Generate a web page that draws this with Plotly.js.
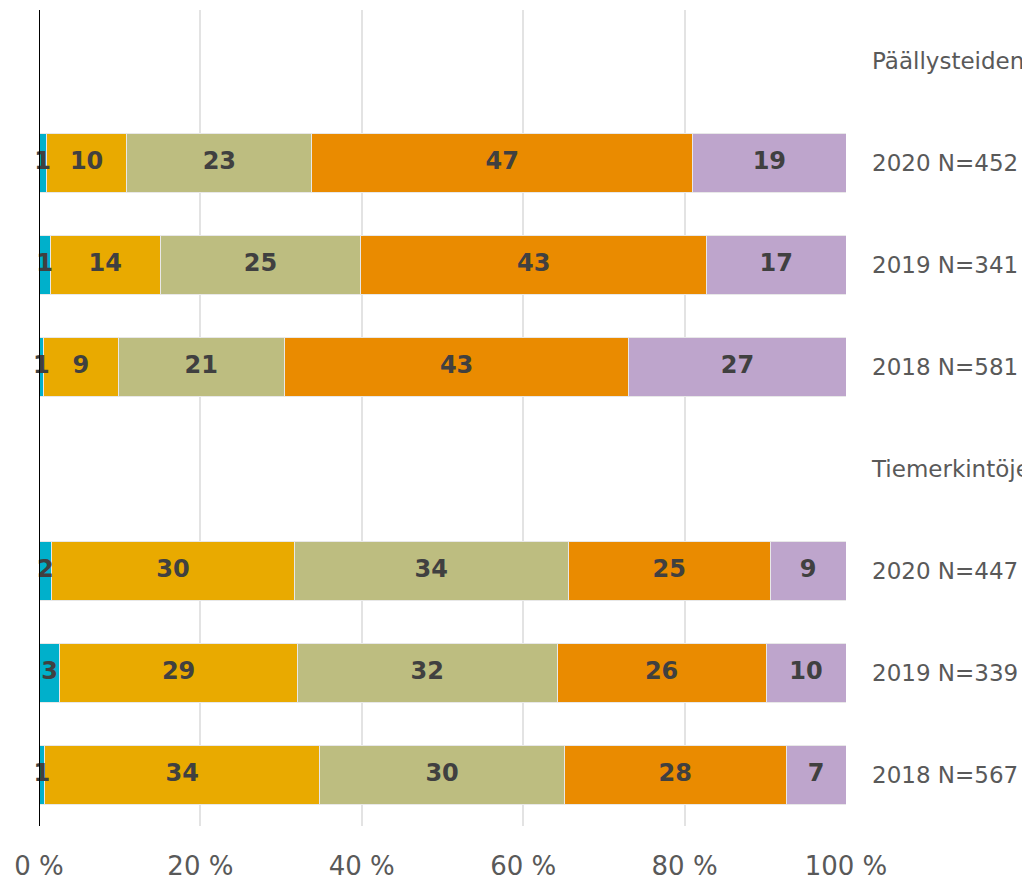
<!DOCTYPE html>
<html><head><meta charset="utf-8">
<script src="https://cdn.plot.ly/plotly-3.0.1.min.js"></script>
<style>html,body{margin:0;padding:0;background:#fff;overflow:hidden}</style>
</head><body><div id="chart" style="width:1022px;height:881px"></div>
<script>
const categories = ["Päällysteiden", "2020 N=452", "2019 N=341", "2018 N=581", "Tiemerkintöjen", "2020 N=447", "2019 N=339", "2018 N=567"];
const s1 = [null, 0.9, 1.4, 0.6, null, 1.6, 2.6, 0.7];
const s2 = [null, 10.0, 13.6, 9.2, null, 30.0, 29.4, 34.1];
const s3 = [null, 22.9, 24.9, 20.6, null, 34.0, 32.2, 30.3];
const s4 = [null, 47.2, 42.8, 42.7, null, 25.0, 25.9, 27.5];
const s5 = [null, 19.0, 17.3, 26.9, null, 9.4, 9.9, 7.4];
const series = [s1, s2, s3, s4, s5];
const colors = ["#00B0CB", "#E9AA00", "#BDBD80", "#EA8B00", "#BEA5CC"];
const tickVals = [0, 20, 40, 60, 80, 100];
const tickText = ["0 %", "20 %", "40 %", "60 %", "80 %", "100 %"];

const traces = series.map((vals, i) => ({
  type: "bar",
  orientation: "h",
  y: categories,
  x: vals,
  marker: {color: colors[i], line: {color: "#E8E8E8", width: 1}},
  hoverinfo: "none",
  showlegend: false
}));

// labels on top of all bars, at the middle of each segment
const lx = [], ly = [], lt = [];
categories.forEach((c, j) => {
  let cum = 0;
  series.forEach(vals => {
    const v = vals[j];
    if (v == null) return;
    lx.push(cum + v / 2); ly.push(c); lt.push(String(Math.round(v)));
    cum += v;
  });
});
traces.push({
  type: "scatter", mode: "text", x: lx, y: ly, text: lt,
  textposition: "middle center", cliponaxis: false,
  textfont: {family: "DejaVu Sans", size: 24, color: "#404040", weight: "bold"},
  hoverinfo: "none", showlegend: false
});

const layout = {
  barmode: "stack",
  bargap: 0.43,
  width: 1022, height: 881,
  margin: {l: 39, r: 176, t: 10, b: 55},
  paper_bgcolor: "#fff", plot_bgcolor: "#fff",
  font: {family: "DejaVu Sans", color: "#595959"},
  xaxis: {
    range: [0, 100], tickvals: tickVals, ticktext: tickText,
    showgrid: true, gridcolor: "#E3E3E3", gridwidth: 2,
    zeroline: false, showline: false, ticks: "",
    tickfont: {size: 26, color: "#595959"}, ticklabelstandoff: 22,
    fixedrange: true
  },
  yaxis: {
    type: "category", autorange: "reversed", side: "right",
    showgrid: false, zeroline: false, showline: false, ticks: "",
    tickfont: {size: 23, color: "#595959"}, ticklabelstandoff: 25,
    fixedrange: true
  },
  shapes: [{type: "line", xref: "x", yref: "paper", x0: 0, x1: 0, y0: 0, y1: 1, layer: "above", line: {color: "#000", width: 2}}]
};
Plotly.newPlot("chart", traces, layout, {displayModeBar: false, staticPlot: true});
</script></body></html>
